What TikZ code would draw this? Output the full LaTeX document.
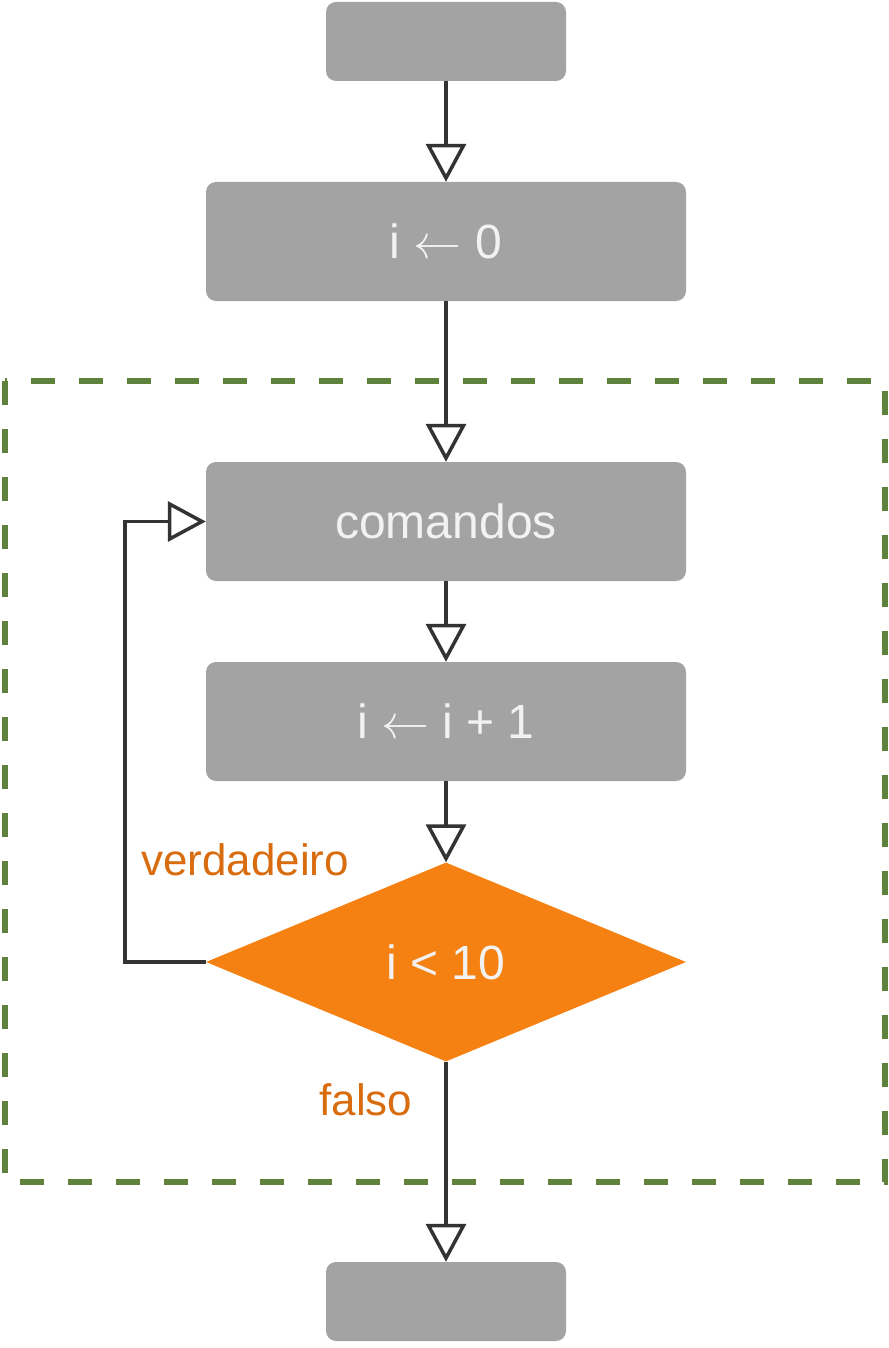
\RequirePackage{fix-cm}
\documentclass[tikz,border=0pt]{standalone}
\usepackage{fontspec}
\setmainfont{Liberation Sans}
\usetikzlibrary{arrows.meta,shapes.geometric}
\definecolor{boxgray}{HTML}{A3A3A3}
\definecolor{boxtext}{HTML}{F2F2F2}
\definecolor{testorange}{HTML}{F58113}
\definecolor{answerorange}{HTML}{D86C0F}
\definecolor{edgegray}{HTML}{333333}
\definecolor{framegreen}{HTML}{5E813C}

\begin{document}
\begin{tikzpicture}[x = 1pt, y = -1pt,
                   every node/.style = {shape          = rectangle,
                                        rounded corners = 10pt,
                                        fill           = boxgray,
                                        minimum width  = 480pt,
                                        minimum height = 119pt,
                                        inner sep      = 0pt,
                                        align          = center,
                                        text           = boxtext,
                                        font           = \fontsize{48}{54}\selectfont},
                   small box/.style  = { minimum width  = 240pt,
                                         minimum height = 79pt},
                   test/.style       = { shape          = diamond,
                                         rounded corners = 0pt,
                                         fill           = testorange,
                                         aspect         = 2.41,
                                         minimum height = 199pt},
                   answer/.style     = { fill           = none,
                                         anchor         = base,
                                         text           = answerorange,
                                         font           = \fontsize{44}{50}\selectfont},
                   flow edge/.style  = { -{Triangle[fill=white, length=38pt, width=40pt]},
                                         line width = 3.5pt,
                                         edgegray},
                   loop frame/.style = { framegreen,
                                         line width   = 6pt,
                                         dash pattern = on 24pt off 24pt}]
\useasboundingbox (0,0) rectangle (888,1348);

% the frame of the loop
\draw[loop frame] (5,381) rectangle (885,1182);

% the nodes
\node[small box](0;0) at (446,41.5)   {};
\node(1;0)            at (446,241.5)  {i $\leftarrow$ 0};
\node(2;0)            at (446,521.5)  {comandos};
\node(3;0)            at (446,721.5)  {i $\leftarrow$ i + 1};
\node[test](4;0)      at (446,962)    {i < 10};
\node[small box](5;0) at (446,1301.5) {};
  \node[answer](4;1)  at (245,875)    {verdadeiro};
  \node[answer](4;-1) at (366,1115)   {falso};

% edges
\foreach \i [evaluate = \i as \j using int(\i+1)] in {0,...,4}
  { \draw[flow edge] (\i;0.south) -- (\j;0.north); }
\draw[flow edge] (4;0.west) -- ++(-81,0) |- (2;0.west);
\end{tikzpicture}
\end{document}
